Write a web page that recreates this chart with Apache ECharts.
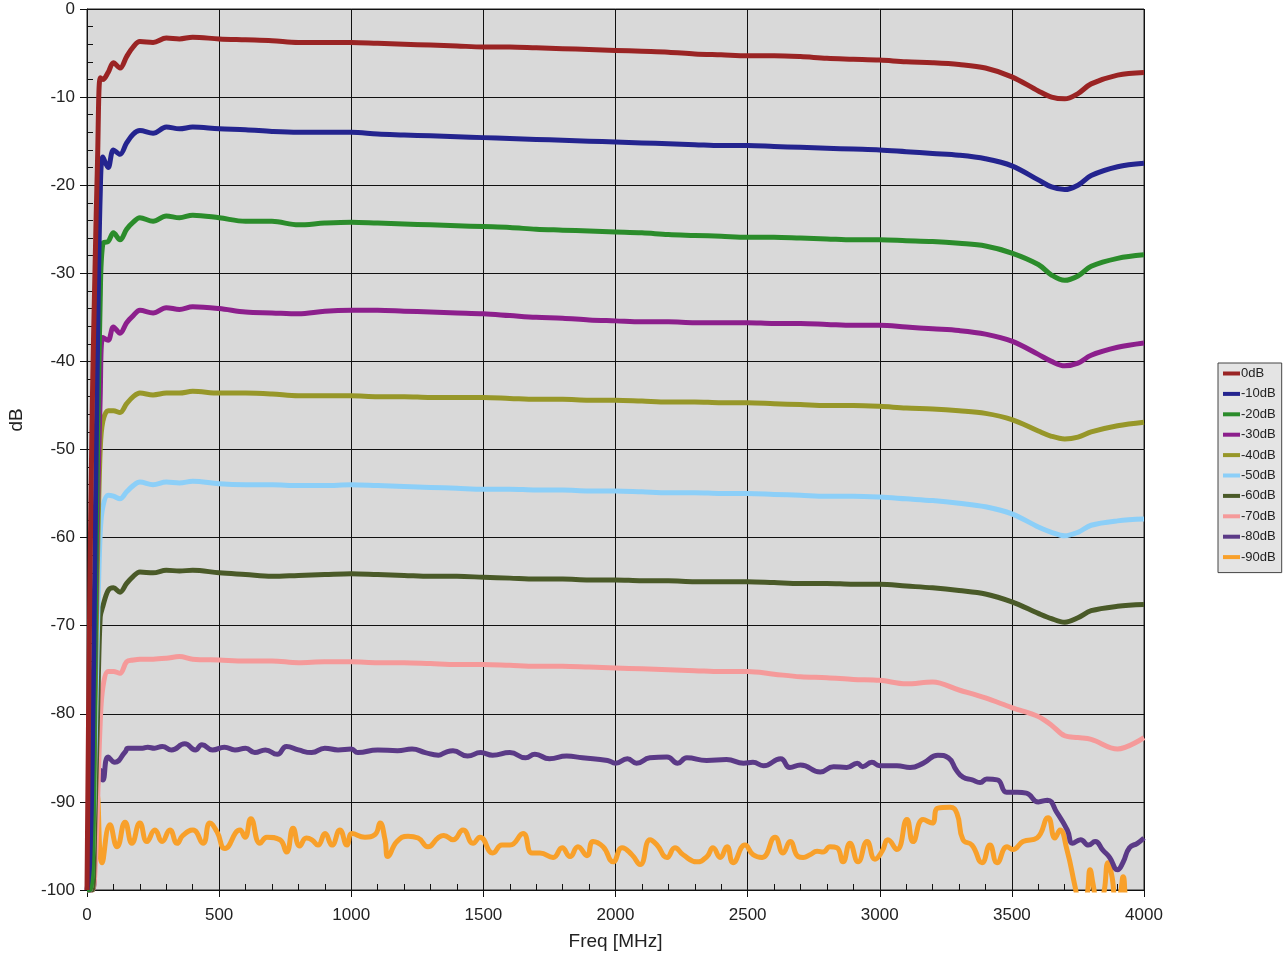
<!DOCTYPE html>
<html>
<head>
<meta charset="utf-8">
<script src="https://cdn.jsdelivr.net/npm/echarts@6/dist/echarts.min.js"></script>
<style>
html,body{margin:0;padding:0;background:#fff;}
#chart{width:1284px;height:958px;}
</style>
</head>
<body>
<div id="chart"></div>
<script>
// ---- data ----
var seriesNames = ['0dB','-10dB','-20dB','-30dB','-40dB','-50dB','-60dB','-70dB','-80dB','-90dB'];
var xTicks = [0,500,1000,1500,2000,2500,3000,3500,4000];
var yTicks = [0,-10,-20,-30,-40,-50,-60,-70,-80,-90,-100];

var freq = [0,10,20,30,40,50,60,80,100,125,150,175,200,250,300,350,400,
  500,600,700,800,900,1000,1100,1200,1300,1400,1500,1600,1700,1800,1900,2000,
  2100,2200,2300,2400,2500,2600,2700,2800,2900,3000,3100,3200,3300,3400,3500,3600,
  3650,3700,3750,3800,3900,4000];

var db0 = [-100,-68,-45,-30,-17,-7.8,-8.0,-7.2,-6.1,-6.7,-5.4,-4.3,-3.7,-3.8,-3.3,-3.4,-3.2,
  -3.4,-3.5,-3.6,-3.8,-3.8,-3.8,-3.9,-4.0,-4.1,-4.2,-4.3,-4.3,-4.4,-4.5,-4.6,-4.7,
  -4.8,-4.9,-5.1,-5.2,-5.3,-5.3,-5.4,-5.6,-5.7,-5.8,-6.0,-6.1,-6.3,-6.7,-7.7,-9.3,
  -10.0,-10.2,-9.6,-8.5,-7.5,-7.2];
var db10 = [-100,-97,-85,-62,-38,-21,-16.8,-18,-16.0,-16.5,-15.2,-14.2,-13.8,-14.1,-13.4,-13.6,-13.4,
  -13.6,-13.7,-13.9,-14.0,-14.0,-14.0,-14.2,-14.3,-14.4,-14.5,-14.6,-14.7,-14.8,-14.9,-15.0,-15.1,
  -15.2,-15.3,-15.4,-15.5,-15.5,-15.6,-15.7,-15.8,-15.9,-16.0,-16.2,-16.4,-16.6,-17.0,-17.8,-19.4,
  -20.2,-20.5,-20.0,-18.9,-17.9,-17.5];
var db20 = [-100,-100,-98,-75,-50,-33,-26.6,-26.4,-25.4,-26.2,-25.0,-24.2,-23.7,-24.1,-23.5,-23.7,-23.4,
  -23.7,-24.1,-24.1,-24.5,-24.3,-24.2,-24.3,-24.4,-24.5,-24.6,-24.7,-24.8,-25.0,-25.1,-25.2,-25.3,
  -25.4,-25.6,-25.7,-25.8,-25.9,-25.9,-26.0,-26.1,-26.2,-26.2,-26.3,-26.4,-26.6,-26.9,-27.7,-29.0,
  -30.2,-30.8,-30.3,-29.2,-28.3,-27.9];
var db30 = [-100,-100,-95,-75,-57,-44,-37.3,-37.6,-36.1,-36.8,-35.6,-34.8,-34.2,-34.5,-33.9,-34.1,-33.8,
  -34.0,-34.4,-34.5,-34.6,-34.3,-34.2,-34.2,-34.3,-34.4,-34.5,-34.6,-34.8,-35.0,-35.1,-35.3,-35.4,
  -35.5,-35.5,-35.6,-35.6,-35.6,-35.7,-35.7,-35.8,-35.9,-35.9,-36.1,-36.3,-36.5,-36.9,-37.7,-39.2,
  -40.0,-40.5,-40.2,-39.3,-38.4,-37.9];
var db40 = [-100,-100,-97,-80,-62,-50,-46.8,-45.6,-45.6,-45.8,-44.8,-44.0,-43.6,-43.8,-43.6,-43.6,-43.4,
  -43.6,-43.6,-43.7,-43.9,-43.9,-43.9,-44.0,-44.0,-44.1,-44.1,-44.1,-44.2,-44.3,-44.3,-44.4,-44.4,
  -44.5,-44.6,-44.6,-44.7,-44.7,-44.8,-44.9,-45.0,-45.0,-45.1,-45.3,-45.4,-45.6,-45.9,-46.6,-47.9,
  -48.5,-48.8,-48.6,-48.0,-47.3,-46.9];
var db50 = [-100,-100,-97,-85,-70,-59.5,-56.5,-55.2,-55.3,-55.6,-54.8,-54.1,-53.7,-54.0,-53.7,-53.8,-53.6,
  -53.9,-54.0,-54.0,-54.1,-54.1,-54.0,-54.1,-54.2,-54.3,-54.4,-54.5,-54.5,-54.6,-54.6,-54.7,-54.7,
  -54.8,-54.9,-54.9,-55.0,-55.0,-55.1,-55.2,-55.3,-55.3,-55.4,-55.6,-55.8,-56.1,-56.5,-57.3,-58.8,
  -59.4,-59.8,-59.4,-58.6,-58.1,-57.9];
var db60 = [-100,-100,-100,-92,-80,-69,-67.8,-66.0,-65.7,-66.2,-65.2,-64.4,-63.9,-64.0,-63.7,-63.8,-63.7,
  -64.0,-64.2,-64.4,-64.3,-64.2,-64.1,-64.2,-64.3,-64.4,-64.4,-64.5,-64.6,-64.7,-64.7,-64.8,-64.8,
  -64.9,-64.9,-65.0,-65.0,-65.0,-65.1,-65.2,-65.2,-65.3,-65.3,-65.5,-65.7,-66.0,-66.4,-67.3,-68.6,
  -69.2,-69.6,-69.1,-68.3,-67.8,-67.6];
var db70 = [-100,-100,-100,-98,-90,-81,-77,-75.2,-75.2,-75.4,-74.1,-73.9,-73.8,-73.8,-73.7,-73.5,-73.8,
  -73.9,-74.0,-74.0,-74.2,-74.1,-74.1,-74.2,-74.2,-74.3,-74.4,-74.4,-74.5,-74.6,-74.6,-74.7,-74.8,
  -74.9,-75.0,-75.1,-75.2,-75.2,-75.5,-75.8,-75.9,-76.1,-76.2,-76.6,-76.4,-77.3,-78.2,-79.3,-80.3,
  -81.3,-82.5,-82.7,-82.9,-84.0,-82.7];

var freq80 = [0,20,30,40,50,60,80,105,145,155,210,230,255,285,320,370,410,435,475,520,560,600,635,675,720,
  755,800,850,900,950,1000,1025,1100,1175,1230,1280,1330,1355,1385,1440,1490,1535,1600,1660,1695,1750,1815,
  1875,1970,2000,2045,2080,2130,2195,2235,2270,2345,2420,2485,2520,2560,2625,2660,2700,2775,2825,2875,2915,
  2935,2970,3000,3065,3115,3165,3220,3260,3290,3315,3350,3380,3405,3445,3480,3520,3555,3600,3635,3670,3710,
  3730,3760,3790,3815,3845,3870,3900,3920,3945,3975,4000];
var db80 = [-100,-100,-96,-88,-86.4,-87.5,-84.9,-85.5,-84.3,-83.9,-83.9,-83.8,-83.9,-83.7,-84.1,-83.4,-84.1,-83.5,-84.1,-83.8,-84.1,-83.9,-84.4,-84.1,-84.6,
  -83.7,-84.1,-84.4,-83.9,-84.1,-84.0,-84.4,-84.1,-84.2,-84.0,-84.4,-84.7,-84.4,-84.2,-84.8,-84.4,-84.7,-84.4,-85.0,-84.6,-85.1,-84.8,
  -85.0,-85.3,-85.6,-85.1,-85.6,-85.0,-84.9,-85.6,-85.0,-85.3,-85.2,-85.6,-85.5,-85.9,-85.1,-86.1,-85.8,-86.6,-86.0,-86.1,-85.6,
  -86.0,-85.5,-85.9,-85.9,-86.1,-85.6,-84.7,-85.0,-86.4,-87.2,-87.5,-87.8,-87.4,-87.5,-88.9,-88.9,-89.0,-90.0,-89.8,-91.2,-93.2,
  -94.7,-94.3,-94.9,-94.5,-95.5,-96.3,-97.7,-96.9,-95.2,-94.7,-94.1];

var freq90 = [0,20,30,38,57,87,114,144,170,200,227,257,284,314,341,363,401,439,465,492,522,579,598,620,655,681,730,
  755,780,805,830,851,874,901,927,957,984,1003,1052,1090,1109,1128,1139,1173,1215,1253,1290,1328,1350,1385,1423,
  1461,1487,1536,1570,1601,1650,1684,1714,1764,1798,1828,1858,1892,1915,1953,1991,2025,2062,2093,2131,2157,2195,
  2225,2256,2308,2346,2369,2396,2422,2445,2490,2521,2555,2604,2634,2661,2691,2710,2736,2763,2785,2812,2838,2861,
  2887,2918,2952,2982,3009,3031,3065,3103,3126,3164,3198,3220,3266,3292,3315,3349,3387,3417,3444,3482,3504,3542,
  3595,3637,3663,3682,3708,3739,3765,3785,3796,3807,3830,3850,3864,3879,3895,3910,3921,3935,3960,4000];
var db90 = [-100,-100,-93,-89.2,-96.9,-92.6,-95.1,-92.3,-94.7,-92.4,-94.5,-93.2,-94.5,-93.2,-94.7,-93.8,-93.2,-94.7,-92.4,-93.4,-95.3,-93.2,-94.0,-91.9,-94.7,-94.0,-94.3,
  -95.7,-93.0,-95.0,-94.1,-94.3,-94.9,-93.6,-94.9,-93.2,-94.9,-93.6,-94.0,-93.7,-92.4,-94.3,-96.2,-94.5,-93.9,-94.1,-95.1,-94.1,-93.8,-94.3,-93.2,
  -94.7,-94.0,-95.8,-94.9,-94.9,-93.6,-95.8,-95.8,-96.3,-95.2,-96.2,-95.1,-96.1,-94.5,-95.1,-96.8,-95.2,-96.0,-97.1,-94.3,-94.9,-96.3,
  -95.2,-96.0,-96.8,-96.2,-95.2,-96.3,-95.1,-96.9,-94.9,-96.0,-96.3,-94.0,-95.8,-94.5,-96.2,-96.3,-96.0,-95.6,-95.7,-95.1,-95.2,-96.8,
  -94.7,-96.8,-94.5,-96.5,-95.6,-94.3,-95.4,-92.0,-94.5,-92.0,-92.4,-90.7,-90.6,-91.3,-94.3,-94.9,-96.9,-94.9,-96.9,-95.1,-95.4,-94.5,
  -94.1,-91.8,-94.1,-93.2,-95.4,-99.6,-103,-100.5,-97.7,-99.3,-103,-100,-96.9,-98.5,-102,-100.5,-98.5,-102,-104,-105];

var colors = ['#9a2424','#24248f','#2b8c2b','#8c1f8c','#979729','#8ccff8','#4a5a28','#f59a9a','#5b3a87','#f8a02a'];

// ---- build ----
function pairs(xs, ys){ return xs.map(function(x,i){ return [x, ys[i]]; }); }
var dataSets = [
  pairs(freq, db0), pairs(freq, db10), pairs(freq, db20), pairs(freq, db30), pairs(freq, db40),
  pairs(freq, db50), pairs(freq, db60), pairs(freq, db70), pairs(freq80, db80), pairs(freq90, db90)
];

var FONT = '"Liberation Sans", Arial, sans-serif';
var series = [];
for (var i = seriesNames.length - 1; i >= 0; i--) {
  series.push({
    name: seriesNames[i],
    type: 'line',
    data: dataSets[i],
    showSymbol: false,
    smooth: i >= 8 ? 0.5 : 0.35,
    color: colors[i],
    lineStyle: { width: 5, color: colors[i] },
    xAxisIndex: 0, yAxisIndex: 0
  });
}

var chart = echarts.init(document.getElementById('chart'), null, {renderer:'canvas'});
chart.setOption({
  animation: false,
  backgroundColor: '#ffffff',
  grid: { left: 87, right: 140, top: 9, bottom: 68, show: true, backgroundColor: '#d9d9d9', borderColor: '#222', borderWidth: 1 },
  legend: {
    data: seriesNames,
    orient: 'vertical',
    left: 1218, top: 363,
    padding: [3, 6, 8, 5],
    itemGap: 5.4,
    itemWidth: 17, itemHeight: 4,
    icon: 'rect',
    backgroundColor: '#e4e4e4',
    borderColor: '#444', borderWidth: 1,
    textStyle: { fontFamily: FONT, fontSize: 13, color: '#222', lineHeight: 15, padding: [0,0,0,-4] }
  },
  xAxis: [{
    type: 'value', min: 0, max: 4000, interval: 500, position: 'bottom',
    name: 'Freq [MHz]', nameLocation: 'middle', nameGap: 42,
    nameTextStyle: { fontFamily: FONT, fontSize: 19, color: '#222' },
    axisLine: { show: true, onZero: false, lineStyle: { color: '#111', width: 1 } },
    axisTick: { show: true, inside: false, length: 7, lineStyle: { color: '#111' } },
    axisLabel: { fontFamily: FONT, fontSize: 17, color: '#222', margin: 17,
      formatter: function(v){ return xTicks.indexOf(v) >= 0 ? String(v) : ''; } },
    splitLine: { show: true, lineStyle: { color: '#111', width: 1 } }
  }, {
    type: 'value', min: 0, max: 4000, interval: 100, position: 'bottom', offset: 0,
    axisLine: { show: false, onZero: false },
    axisTick: { show: true, inside: true, length: 6, lineStyle: { color: '#111' } },
    axisLabel: { show: false }, splitLine: { show: false }
  }],
  yAxis: [{
    type: 'value', min: -100, max: 0, interval: 10, position: 'left',
    axisLine: { show: true, onZero: false, lineStyle: { color: '#111', width: 1 } },
    axisTick: { show: true, inside: false, length: 7, lineStyle: { color: '#111' } },
    axisLabel: { fontFamily: FONT, fontSize: 17, color: '#222', margin: 12,
      formatter: function(v){ return yTicks.indexOf(v) >= 0 ? String(v) : ''; } },
    splitLine: { show: true, lineStyle: { color: '#111', width: 1 } }
  }, {
    type: 'value', min: -100, max: 0, interval: 2, position: 'left', offset: 0,
    axisLine: { show: false, onZero: false },
    axisTick: { show: true, inside: true, length: 6, lineStyle: { color: '#111' } },
    axisLabel: { show: false }, splitLine: { show: false }
  }],
  graphic: [{
    type: 'text', x: 17, y: 420, rotation: Math.PI / 2,
    style: { text: 'dB', font: '19px ' + FONT, fill: '#222', textAlign: 'center', textVerticalAlign: 'middle' }
  }],
  series: series
});
</script>
</body>
</html>
